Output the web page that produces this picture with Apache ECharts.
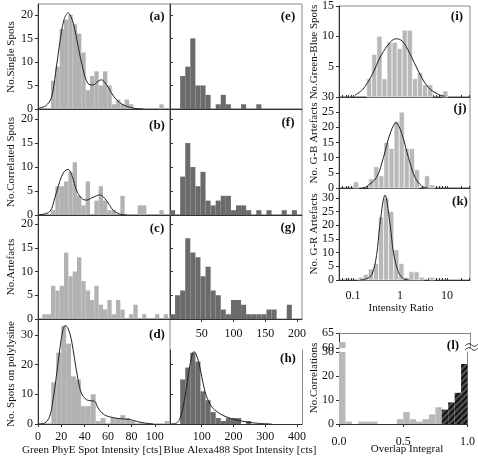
<!DOCTYPE html>
<html><head><meta charset="utf-8">
<script src="https://cdn.jsdelivr.net/npm/echarts@6/dist/echarts.min.js"></script>
<style>html,body{margin:0;padding:0;background:#fff}#c{width:478px;height:460px}</style>
</head><body><div id="c"></div><script>
// ---------- DATA ----------
// Green PhyE intensity histograms (left column), bins in cts
const greenBinWidth = 3.71;
const aCounts = [0,0,0,6,9,17,19,20,18,16,12,4,7,8,5,8,5,1,2,1,2,1,0,0,0,0,0,0,1];
const bCounts = [0,0,0,1,6,6,7,9,11,4,2,7,0,3,6,3,1,1,0,4,0,0,0,2,2,0,0,0,1];
const cCounts = [0,1,1,7,6,7,14,9,10,13,8,6,4,7,3,2,4,1,4,2,0,1,3,0,1,0,0,1,0,1];
const dBinStart = 11.4, dBinWidth = 4.22;
const dCounts = [14,24,33,27,16,15,6,6,10,1,2,0,2,2,3,2,1,0,0,0,0,0,0,1];
const aCurve = [[0,0],[1.4,0.2],[6.8,0.7],[11.4,2.4],[15.1,7.7],[18.6,14],[22.3,19],[25.7,20.4],[30,18.4],[34.3,13.4],[38.6,8.4],[42.8,5.4],[47.1,5.1],[51.4,5.9],[54.3,6.2],[58.6,5.2],[62.9,3.4],[67.1,2.0],[72.8,0.9],[81.4,0.2],[90,0]];
const bCurve = [[0,0],[10,0.7],[14.3,3.5],[18.6,7],[22.3,9],[25.7,9.5],[29.4,8],[32.9,5.2],[37.2,3.5],[41.5,3.1],[47.1,3.7],[52.9,4.2],[58.6,3.0],[64.3,1.0],[70,0.2],[76,0]];
const dCurve = [[0,0],[5.7,0.3],[10,2.6],[12.9,8.2],[15.7,16],[18.6,25],[21.4,31.7],[23.4,33.1],[25.7,32.2],[28.6,28.3],[31.4,21.6],[34.3,14.9],[37.1,10.4],[41.4,8.2],[45.7,7.8],[48.6,7.6],[51.4,5.4],[55.7,3.4],[61.4,2.4],[70,1.8],[78.6,1.5],[84.3,0.9],[90,0.4],[98.6,0]];
const greenTicks = [0,20,40,60,80,100];
// Blue Alexa488 intensity histograms (middle column)
const blueBinWidth = 8;
const eCounts = [0,0,7,9,15,5,5,3,0,1,3,1,0,0,1,0,0,1];
const fCounts = [1,0,8,15,10,6,9,3,2,3,4,4,1,2,2,1,0,1,0,1,0,0,1,0,1];
const gCounts = [1,5,6,17,14,13,9,11,6,5,2,1,4,4,3,1,1,1,1,2,2,0,0,3];
const hBinWidth = 16;
const hCounts = [0,0,15,19,24,21,11,8,4,2,1,2,2,2,0,1];
const hCurve = [[0,0],[20,0.3],[30,1.5],[40,5],[50,11],[60,18],[70,23.5],[75,24.3],[80,24],[90,21],[100,16],[110,11],[120,8],[130,6],[140,4.8],[160,3.3],[180,2.3],[200,1.6],[240,0.7],[280,0.2],[320,0]];
const blueTicksG = [50,100,150,200];
const blueTicksH = [100,200,300,400];
// Intensity ratio histograms (right column), bins in log10(ratio)
const ratioBinWidthLog = 0.108;
const iBinStartLog = -0.709;
const iCounts = [3,7,10,3,9,9,8,11,11,3,4,2,2,0,0,1];
const jBinStartLog = -0.99;
const jCounts = [2,0,0,3,7,4,15,13,22,25,13,13,6,0,4,1];
const kBinStartLog = -0.89;
const kCounts = [1,2,4,6,23,30,25,11,6,1,3,3,1,0,1];
const iCurveLog = [[-0.96,0.3],[-0.8,1.2],[-0.6,3.6],[-0.4,6.9],[-0.2,9.1],[-0.085,9.6],[0.05,9.2],[0.2,7.3],[0.4,4.1],[0.6,1.6],[0.8,0.5],[0.96,0.1]];
const jCurveLog = [[-0.8,0],[-0.71,0.5],[-0.5,3.5],[-0.355,10],[-0.21,18],[-0.085,21.5],[0.035,18],[0.18,10],[0.32,3.5],[0.46,0.7],[0.6,0]];
const kCurveLog = [[-0.85,0],[-0.71,0.5],[-0.6,2],[-0.5,9],[-0.43,20],[-0.32,31],[-0.21,20],[-0.14,10],[-0.035,3],[0.07,0.5],[0.2,0]];
const ratioMajor = [0.1,1,10];
// Overlap integral histogram
const overlapBinWidth = 0.05;
const lCounts = [62,1,0,1,1,1,0,0,0,2,5,2,1,2,4,7,6,9,13,25];
const lHatchFrom = 16;

// ---------- BUILD ----------
const F = 'Liberation Serif';
const grids=[], xAxes=[], yAxes=[], series=[], graphics=[], extraX=[], extraY=[];
const BORDER='#8a8a8a';
function addGrid(l,t,w,h,show){grids.push({left:l,top:t,width:w,height:h,show:show!==false,borderColor:BORDER,borderWidth:1,backgroundColor:'transparent'});return grids.length-1;}
function axis(gi,min,max,o){
  const a={type:'value',gridIndex:gi,min:min,max:max,splitLine:{show:false},
    axisLine:{show:true,onZero:false,lineStyle:{color:'#333',width:1}},
    axisTick:{show:false,length:3,lineStyle:{color:'#333'}},
    axisLabel:{show:false,fontFamily:F,fontSize:12,color:'#111',margin:5}};
  if(o){ if(o.ticks){a.axisTick.show=true;a.axisTick.customValues=o.ticks;}
    if(o.inside){a.axisTick.inside=true;}
    if(o.tlen){a.axisTick.length=o.tlen;}
    if(o.labels){a.axisLabel.show=true;a.axisLabel.customValues=o.labels;}
    if(o.fmt){a.axisLabel.formatter=o.fmt;}
    if(o.margin!=null){a.axisLabel.margin=o.margin;}
    if(o.noLine){a.axisLine.show=false;}
  }
  return a;
}
function borderAxis(gi,kind,pos,min,max){
  const a={type:'value',gridIndex:gi,position:pos,min:min,max:max,splitLine:{show:false},axisTick:{show:false},axisLabel:{show:false},
    axisLine:{show:true,onZero:false,lineStyle:{color:BORDER,width:1}}};
  (kind==='x'?extraX:extraY).push(a);
}
function barRenderer(fill,stroke){
  return function(params,api){
    const x0=api.value(0),x1=api.value(1),v=api.value(2);
    if(!v) return null;
    const p0=api.coord([x0,0]),p1=api.coord([x1,v]);
    const cs=params.coordSys;
    const r=echarts.graphic.clipRectByRect({x:p0[0],y:p1[1],width:p1[0]-p0[0],height:p0[1]-p1[1]},{x:cs.x,y:cs.y,width:cs.width,height:cs.height});
    if(!r) return null;
    const f = typeof fill==='function'?fill(params.dataIndex):fill;
    return {type:'rect',shape:r,style:{fill:f,stroke:stroke||null,lineWidth:stroke?0.6:0}};
  };
}
function hist(idx,start,width,counts,fill,stroke){
  const data=counts.map((c,i)=>[start+i*width,start+(i+1)*width,c]);
  series.push({type:'custom',xAxisIndex:idx,yAxisIndex:idx,data:data,renderItem:barRenderer(fill,stroke),silent:true,encode:{x:[0,1],y:2},z:2});
}
function curve(idx,pts){
  series.push({type:'line',xAxisIndex:idx,yAxisIndex:idx,data:pts,smooth:0.35,showSymbol:false,symbol:'none',silent:true,
    lineStyle:{color:'#222',width:1},z:5,clip:true});
}
function text(x,y,s,o){
  graphics.push({type:'text',x:x,y:y,style:{text:s,fontFamily:F,fontSize:(o&&o.size)||11,fontWeight:(o&&o.bold)?'bold':'normal',fill:'#111',align:'center',verticalAlign:'middle'},rotation:(o&&o.rot)||0,z:10});
}
const LIGHT='#b2b2b2', DARK='#6b6b6b', RLIGHT='#b8b8b8';
const y20=[0,5,10,15,20];
// left column
const L=38,W=132,M=170;
let g;
g=addGrid(L,4,W,105); xAxes.push(axis(g,0,113)); yAxes.push(axis(g,0,22.3,{ticks:y20,labels:y20})); hist(g,0,greenBinWidth,aCounts,LIGHT); curve(g,aCurve);
g=addGrid(L,109,W,106); xAxes.push(axis(g,0,113)); yAxes.push(axis(g,0,22.1,{ticks:y20,labels:y20})); hist(g,0,greenBinWidth,bCounts,LIGHT); curve(g,bCurve);
g=addGrid(L,215,W,104); xAxes.push(axis(g,0,113)); yAxes.push(axis(g,0,21.9,{ticks:y20,labels:y20})); hist(g,0,greenBinWidth,cCounts,LIGHT);
g=addGrid(L,319,W,105); xAxes.push(axis(g,0,113,{ticks:greenTicks,labels:greenTicks,margin:7})); yAxes.push(axis(g,0,35.3,{ticks:[0,10,20,30],labels:[0,10,20,30]})); hist(g,dBinStart,dBinWidth,dCounts,LIGHT); curve(g,dCurve);
// middle column
g=addGrid(M,4,W,105); xAxes.push(axis(g,0,208)); yAxes.push(axis(g,0,22.3,{ticks:y20,inside:true})); hist(g,0,blueBinWidth,eCounts,DARK);
g=addGrid(M,109,W,106); xAxes.push(axis(g,0,208)); yAxes.push(axis(g,0,22.1,{ticks:y20,inside:true})); hist(g,0,blueBinWidth,fCounts,DARK);
g=addGrid(M,215,W,104); xAxes.push(axis(g,0,208,{ticks:blueTicksG,labels:blueTicksG,margin:9})); yAxes.push(axis(g,0,21.9,{ticks:y20,inside:true})); hist(g,0,blueBinWidth,gCounts,DARK);
g=addGrid(M,350,W,74,false); xAxes.push(axis(g,0,416,{ticks:blueTicksH,labels:blueTicksH,margin:7})); yAxes.push(axis(g,0,24.9,{ticks:[0,10,20],inside:true})); hist(g,0,hBinWidth,hCounts,DARK); curve(g,hCurve);
borderAxis(g,'y','right',0,24.9);
// right column (x = log10 ratio)
const R=339,RW=131, lmin=-1.3, lmax=1.49;
const minorLog=[];
[0.01,0.1,1,10].forEach(d=>{for(let k=2;k<=9;k++){const v=Math.log10(k*d); if(v>lmin&&v<lmax) minorLog.push(v);}});
const majorLog=ratioMajor.map(v=>Math.log10(v));
const ratioTicks=majorLog.concat(minorLog);
const fmtRatio=v=>{const r=Math.pow(10,v);return r<1?r.toFixed(1):String(Math.round(r));};
g=addGrid(R,6,RW,91); xAxes.push(axis(g,lmin,lmax,{ticks:ratioTicks,inside:true,tlen:2})); yAxes.push(axis(g,0,15,{ticks:[0,5,10,15],labels:[5,10,15]})); hist(g,iBinStartLog,ratioBinWidthLog,iCounts,RLIGHT,'#fff'); curve(g,iCurveLog);
g=addGrid(R,97,RW,91); xAxes.push(axis(g,lmin,lmax,{ticks:ratioTicks,inside:true,tlen:2})); yAxes.push(axis(g,0,30,{ticks:[0,5,10,15,20,25,30],labels:[0,5,10,15,20,25,30]})); hist(g,jBinStartLog,ratioBinWidthLog,jCounts,RLIGHT,'#fff'); curve(g,jCurveLog);
g=addGrid(R,188,RW,92); xAxes.push(axis(g,lmin,lmax,{ticks:ratioTicks,inside:true,tlen:2,labels:majorLog,fmt:fmtRatio,margin:10})); yAxes.push(axis(g,0,33.6,{ticks:[0,5,10,15,20,25,30],labels:[0,5,10,15,20,25,30]})); hist(g,kBinStartLog,ratioBinWidthLog,kCounts,RLIGHT,'#fff'); curve(g,kCurveLog);
// overlap integral, broken axis
const hatchC=document.createElement('canvas'); hatchC.width=6; hatchC.height=6;
(function(){const c=hatchC.getContext('2d');c.fillStyle='#4a4a4a';c.fillRect(0,0,6,6);c.strokeStyle='#000';c.lineWidth=1.3;c.beginPath();
 c.moveTo(-1,7);c.lineTo(7,-1);c.moveTo(-4,4);c.lineTo(4,-4);c.moveTo(2,10);c.lineTo(10,2);c.stroke();})();
const hatchFill={image:hatchC,repeat:'repeat'};
const lFill=i=>i>=lHatchFrom?hatchFill:RLIGHT;
g=addGrid(R,333,RW,15,false); xAxes.push(axis(g,0,1,{noLine:true})); yAxes.push(axis(g,60,65,{ticks:[60,65],labels:[60,65]})); hist(g,0,overlapBinWidth,lCounts,lFill);
borderAxis(g,'x','top',0,1); borderAxis(g,'y','right',60,65);
g=addGrid(R,352,RW,72,false); xAxes.push(axis(g,0,1,{ticks:[0,0.5,1],labels:[0,0.5,1],fmt:v=>v.toFixed(1),margin:12})); yAxes.push(axis(g,0,30,{ticks:[0,10,20,30],labels:[0,10,20,30]})); hist(g,0,overlapBinWidth,lCounts,lFill);
borderAxis(g,'y','right',0,30);
// texts
const B={bold:1,size:13};
text(157,17,'(a)',B); text(157,126,'(b)',B); text(157,229,'(c)',B); text(157,335,'(d)',B);
text(288,17,'(e)',B); text(288,123,'(f)',B); text(288,228,'(g)',B); text(288,359,'(h)',B);
text(457,17,'(i)',B); text(460,109,'(j)',B); text(460,202,'(k)',B); text(453,346,'(l)',B);
const RT={rot:Math.PI/2};
text(11,57,'No.Single Spots',RT); text(11,162,'No.Correlated Spots',RT); text(11,267,'No.Artefacts',RT); text(11,374,'No. Spots on polylysine',RT);
text(314,52,'No.Green-Blue Spots',RT); text(314,143,'No. G-B Artefacts',RT); text(314,234,'No. G-R Artefacts',RT); text(314,378,'No.Correlations',RT);
text(92,450,'Green PhyE Spot Intensity [cts]'); text(240,450,'Blue Alexa488 Spot Intensity [cts]'); text(401,308,'Intensity Ratio'); text(407,449,'Overlap Integral');
// axis break marks
graphics.push({type:'polyline',shape:{points:[[465,346],[467.5,344],[470.5,344],[473,346],[475.5,346],[478,344]],smooth:0.5},style:{stroke:'#333',lineWidth:1,fill:null},z:10});
graphics.push({type:'polyline',shape:{points:[[465,350],[467.5,348],[470.5,348],[473,350],[475.5,350],[478,348]],smooth:0.5},style:{stroke:'#333',lineWidth:1,fill:null},z:10});

const chart=echarts.init(document.getElementById('c'),null,{renderer:'canvas'});
chart.setOption({animation:false,grid:grids,xAxis:xAxes.concat(extraX),yAxis:yAxes.concat(extraY),series:series,graphic:{elements:graphics}});
</script></body></html>
